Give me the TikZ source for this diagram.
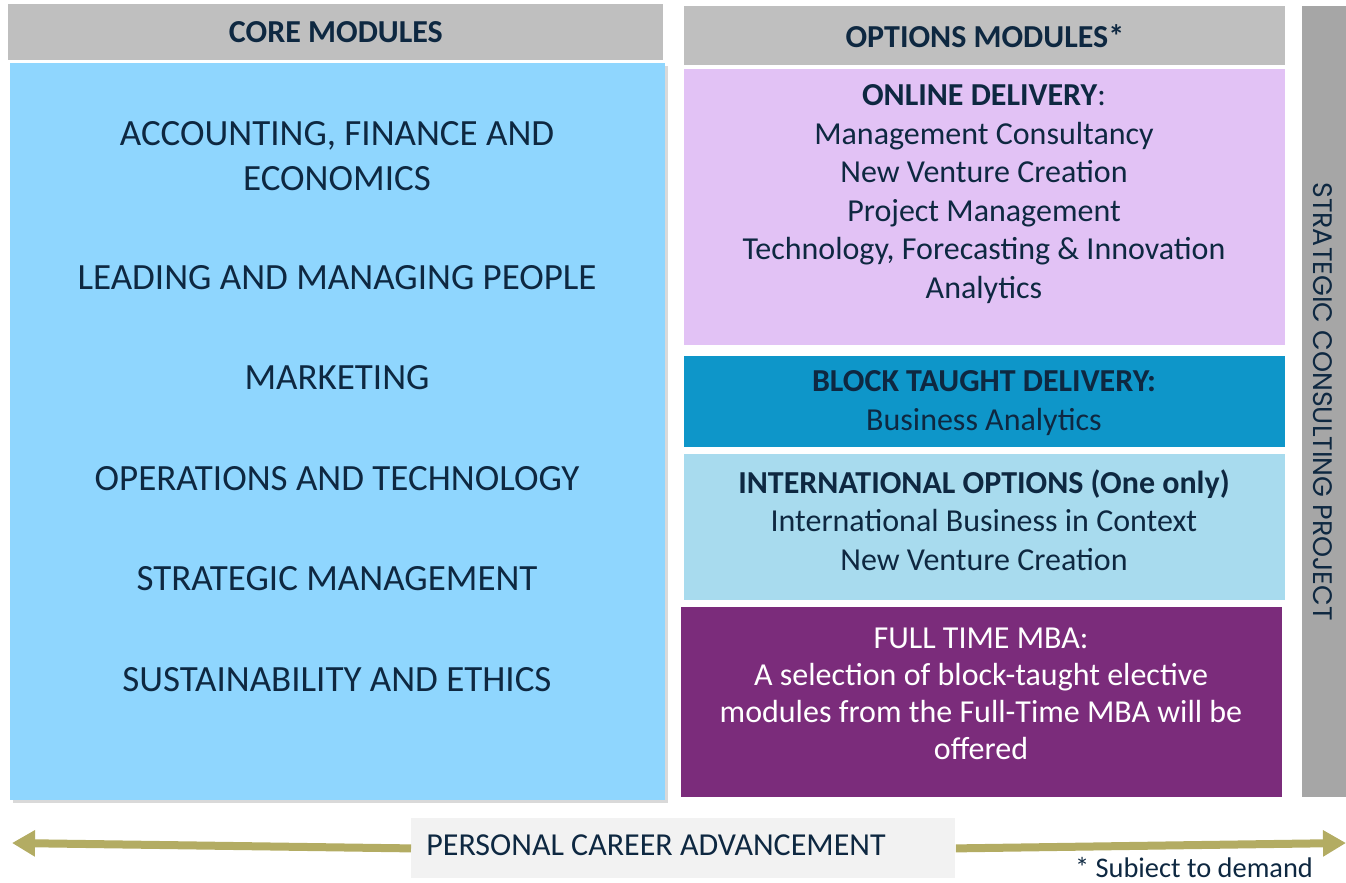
\documentclass[tikz,border=0pt]{standalone}
\usepackage{fontspec}
\setmainfont{Carlito}
\newfontfamily\geofont{Poppins}
\usetikzlibrary{arrows.meta, shadows}
\definecolor{navy}{HTML}{0E2841}
\definecolor{headgray}{HTML}{BFBFBF}
\definecolor{coreblue}{HTML}{8FD6FE}
\definecolor{lavender}{HTML}{E2C2F5}
\definecolor{blockblue}{HTML}{0E96C9}
\definecolor{intlblue}{HTML}{A8DBEE}
\definecolor{mbapurple}{HTML}{7B2C7B}
\definecolor{projgray}{HTML}{A6A6A6}
\definecolor{careerolive}{HTML}{B3AC63}
\definecolor{careerbg}{HTML}{F2F2F2}
\tikzset{
    panel/.style={
        rectangle, anchor=north west, inner sep=0pt, draw=none
    },
    headbox/.style={
        panel, fill=headgray, text=navy,
        font=\fontsize{16}{19}\selectfont\bfseries
    },
    modtext/.style={
        align=center, text=navy, font=\fontsize{18.5}{22.5}\selectfont
    },
    opttext/.style={
        align=center, text=navy, font=\fontsize{16}{19.3}\selectfont
    },
    careerarrow/.style={
        -{Triangle[length=11.5pt, width=12.5pt]}, line width=4pt, draw=careerolive
    }
}

\begin{document}
\begin{tikzpicture}[x=0.5pt, y=-0.5pt]
    \useasboundingbox (0,0) rectangle (1346,883);

    % core column
    \node[headbox, minimum width=327.5pt, minimum height=28pt] (corehead) at (8,4) {CORE MODULES};
    \node[panel, fill=coreblue, minimum width=327.5pt, minimum height=368.5pt,
          drop shadow={opacity=0.3, shadow xshift=1.5pt, shadow yshift=-1.5pt}] (corebox) at (10,63) {};

    \node[modtext] (acc)   at (337,156) {ACCOUNTING, FINANCE AND\\ECONOMICS};
    \node[modtext] (lead)  at (337,278) {LEADING AND MANAGING PEOPLE};
    \node[modtext] (mkt)   at (337,378) {MARKETING};
    \node[modtext] (ops)   at (337,479) {OPERATIONS AND TECHNOLOGY};
    \node[modtext] (strat) at (337,579) {STRATEGIC MANAGEMENT};
    \node[modtext] (sust)  at (337,680) {SUSTAINABILITY AND ETHICS};

    % options column
    \node[headbox, minimum width=300.5pt, minimum height=29.5pt] (opthead) at (684,6) {OPTIONS MODULES*};
    \node[panel, fill=lavender,  minimum width=300.5pt, minimum height=138pt]  (online) at (684,69) {};
    \node[panel, fill=blockblue, minimum width=300.5pt, minimum height=45.5pt] (block)  at (684,356) {};
    \node[panel, fill=intlblue,  minimum width=300.5pt, minimum height=73pt]   (intl)   at (684,454) {};
    \node[panel, fill=mbapurple, minimum width=300.5pt, minimum height=95pt]   (mba)    at (681,607) {};

    \node[opttext] (onlinetxt) at (984,194)
        {\textbf{ONLINE DELIVERY}:\\Management Consultancy\\New Venture Creation\\Project Management\\Technology, Forecasting \& Innovation\\Analytics};
    \node[opttext] (blocktxt) at (984,403)
        {\textbf{BLOCK TAUGHT DELIVERY:}\\Business Analytics};
    \node[opttext] (intltxt) at (984,520)
        {\textbf{INTERNATIONAL OPTIONS (One only)}\\International Business in Context\\New Venture Creation};
    \node[opttext, text=white, font=\fontsize{16}{18.6}\selectfont] (mbatxt) at (981,694)
        {FULL TIME MBA:\\A selection of block-taught elective\\modules from the Full-Time MBA will be\\offered};

    % project bar
    \node[panel, fill=projgray, minimum width=22pt, minimum height=395.5pt] (proj) at (1302,6) {};
    \node[rotate=-90, text=navy, font=\geofont\fontsize{13.4}{16}\selectfont] (projtxt) at (1323,401.5)
        {STRATEGIC CONSULTING PROJECT};

    % career arrow
    \coordinate (arrL) at (12,843);
    \coordinate (arrR) at (1346,843);
    \node[panel, fill=careerbg, minimum width=272pt, minimum height=30pt] (career) at (411,818) {};
    \draw[careerarrow] (career.west) -- (arrL);
    \draw[careerarrow] (career.east) -- (arrR);
    \node[text=navy, font=\fontsize{16}{19}\selectfont] (careertxt) at (656,845) {PERSONAL CAREER ADVANCEMENT};

    \node[text=navy, inner sep=0pt, font=\fontsize{14.2}{17}\selectfont] (note) at (1194,868) {* Subiect to demand};
\end{tikzpicture}
\end{document}
